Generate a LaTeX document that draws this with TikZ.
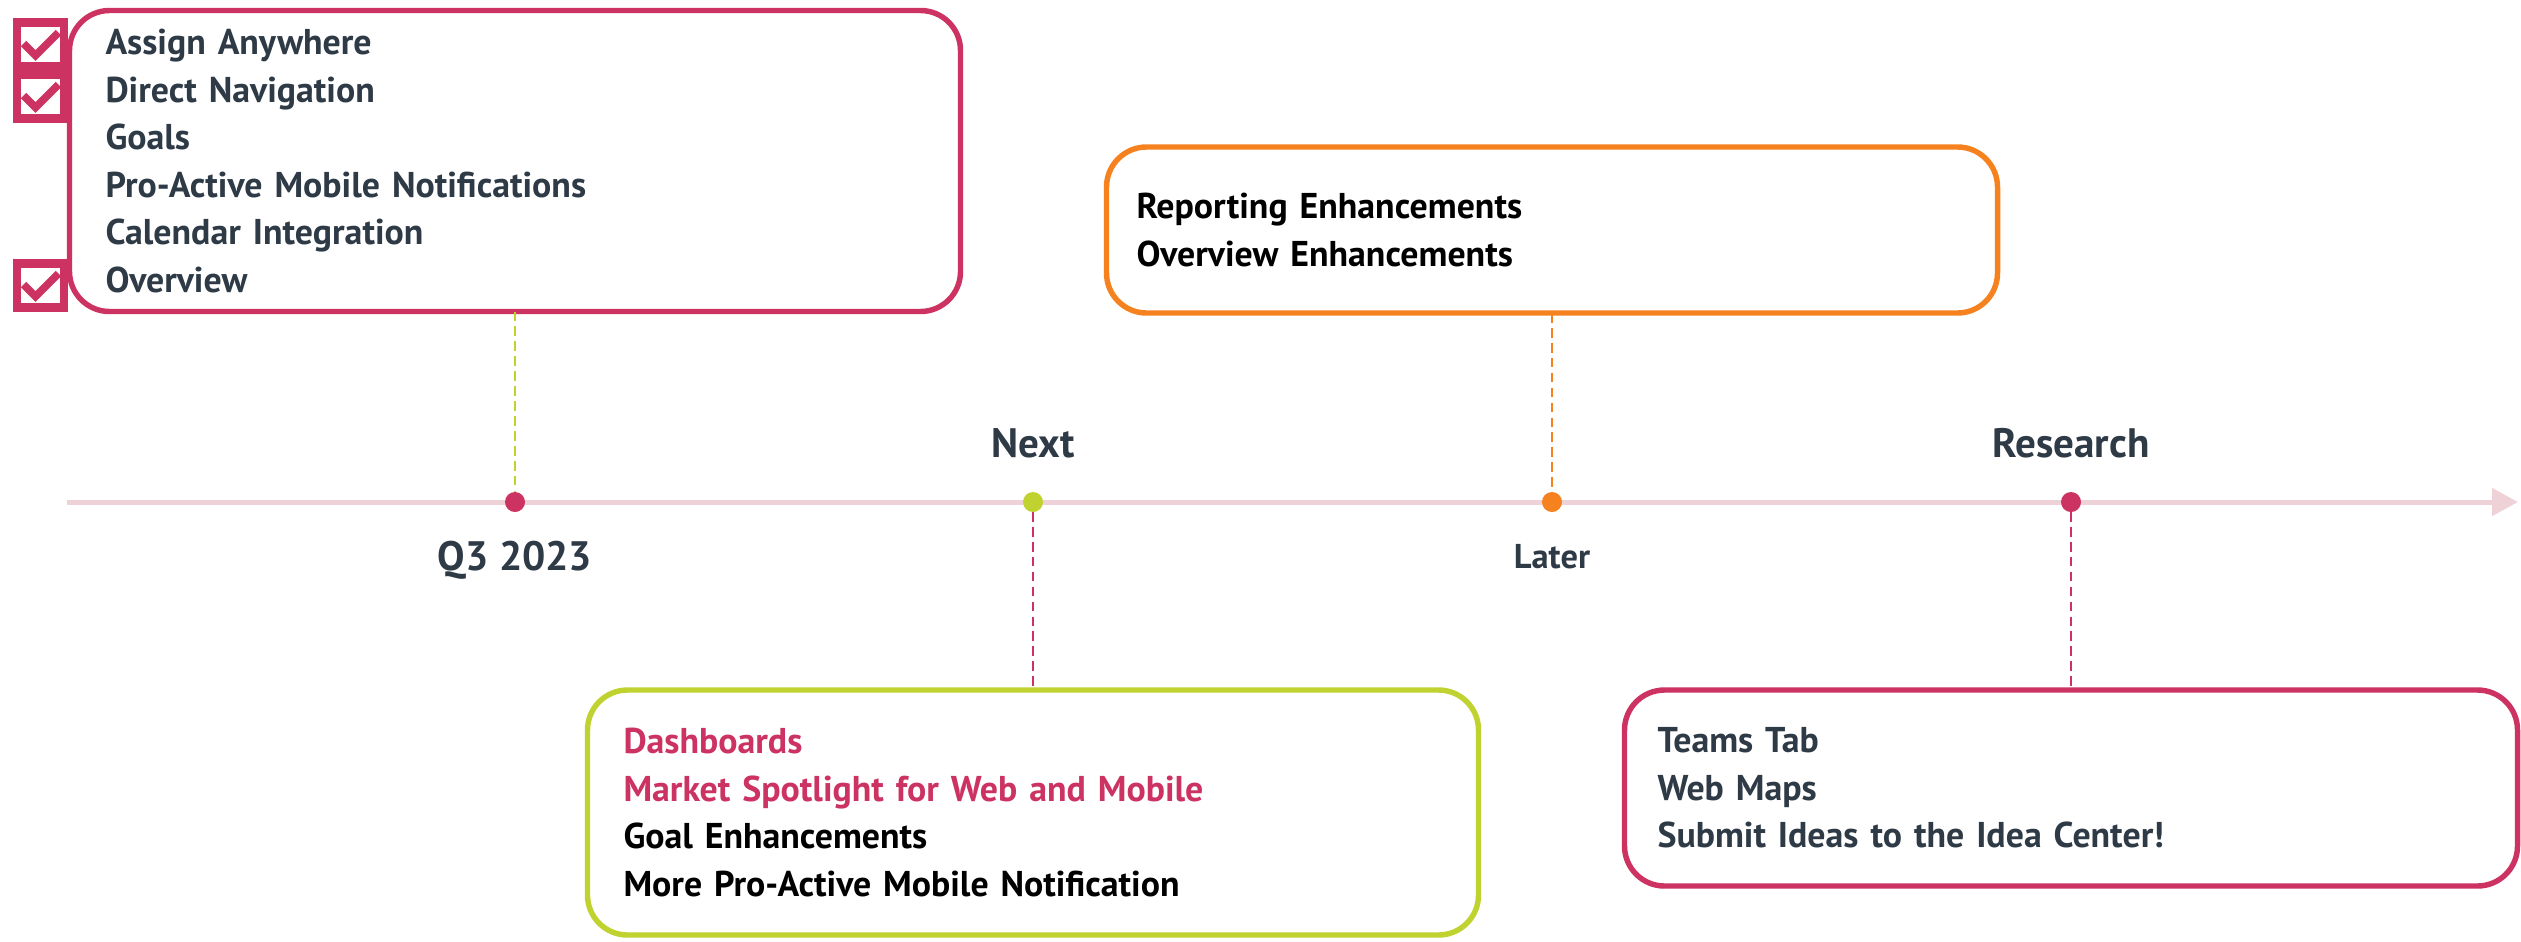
\documentclass[tikz,border=0pt]{standalone}
\usepackage{fontspec}
\setmainfont{PT Sans}
\usepackage{tikz}
\usetikzlibrary{arrows.meta, positioning, calc}
\definecolor{rmpink}{HTML}{CC3262}
\definecolor{rmlime}{HTML}{BFD22F}
\definecolor{rmorange}{HTML}{F5821F}
\definecolor{rmslate}{HTML}{2E3A46}
\definecolor{rmline}{HTML}{EFD2D8}
\newcommand{\px}{0.02cm}
\newcommand{\cardfont}{\fontsize{20.4}{27.1}\selectfont\bfseries}

\begin{document}
\begin{tikzpicture}[
    x=0.02cm, y=-0.02cm,
    card/.style={
        draw=rmpink, fill=white, rounded corners=0.8cm,
        line width=3.1pt, inner sep=0pt, outer sep=0pt,
        align=left, font=\cardfont, text=rmslate
    },
    checkbox/.style={
        draw=rmpink, fill=white, line width=4.6pt,
        minimum width=46.5*\px, minimum height=44*\px, inner sep=0pt
    },
    tick/.style={draw=rmpink, line width=4.3pt},
    stopdot/.style={circle, minimum size=20*\px, inner sep=0pt, outer sep=0pt},
    milestone/.style={anchor=base, text=rmslate, font=\fontsize{23.4}{27}\selectfont\bfseries},
    link/.style={line width=1.1pt, dash pattern=on 5.5pt off 3pt},
    tline/.style={draw=rmline, line width=2.85pt, -{Triangle[length=0.52cm, width=0.54cm]}}
]
\useasboundingbox (0,0) rectangle (2521,941);

% --- Timeline ---
\coordinate (tl0) at (67,502);
\coordinate (tl1) at (2518,502);
\draw[tline] (tl0) -- (tl1);

\node[stopdot, fill=rmpink] (d1) at (515,502) {};
\node[stopdot, fill=rmlime] (d2) at (1033,502) {};
\node[stopdot, fill=rmorange] (d3) at (1552,502) {};
\node[stopdot, fill=rmpink] (d4) at (2071,502) {};

% --- Milestone labels ---
\node[milestone] (lq3) at (515,570) {Q3 2023};
\node[milestone] (lnext) at (1033,457) {Next};
\node[milestone, font=\fontsize{19.6}{23}\selectfont\bfseries] (llater) at (1552,568) {Later};
\node[milestone] (lres) at (2071,457) {Research};

% --- Cards ---
\node[card, minimum width=891*\px, minimum height=301*\px, text width=819*\px] (q3box) at (515,161) {%
    Assign Anywhere\\
    Direct Navigation\\
    Goals\\
    Pro-Active Mobile Notifications\\
    Calendar Integration\\
    Overview%
};
\node[card, draw=rmorange, text=black, minimum width=891*\px, minimum height=166*\px, text width=831*\px] (laterbox) at (1552,230) {%
    Reporting Enhancements\\
    Overview Enhancements%
};
\node[card, draw=rmlime, text=black, minimum width=891*\px, minimum height=245*\px, text width=819*\px] (nextbox) at (1033,812.5) {%
    \textcolor{rmpink}{Dashboards}\\
    \textcolor{rmpink}{Market Spotlight for Web and Mobile}\\
    Goal Enhancements\\
    More Pro-Active Mobile Notification%
};
\node[card, minimum width=893*\px, minimum height=196*\px, text width=827*\px] (resbox) at (2071,788) {%
    Teams Tab\\
    Web Maps\\
    Submit Ideas to the Idea Center!%
};

% --- Done checkboxes ---
\node[checkbox] (ck1) at (40.5,44.5) {};
\node[checkbox] (ck2) at (40.5,96.5) {};
\node[checkbox] (ck3) at (40.5,285.5) {};
\foreach \c in {ck1, ck2, ck3} {
    \draw[tick] ($(\c.center)+(-17,-1)$) -- ++(12,12) -- ++(23,-23);
}

% --- Dashed links ---
\foreach \a/\b/\col in {q3box/d1/rmlime, laterbox/d3/rmorange} {
    \draw[link, draw=\col] (\a.south) -- (\b.north);
}
\foreach \a/\b/\col in {d2/nextbox/rmpink, d4/resbox/rmpink} {
    \draw[link, draw=\col] (\a.south) -- (\b.north);
}

\end{tikzpicture}
\end{document}
